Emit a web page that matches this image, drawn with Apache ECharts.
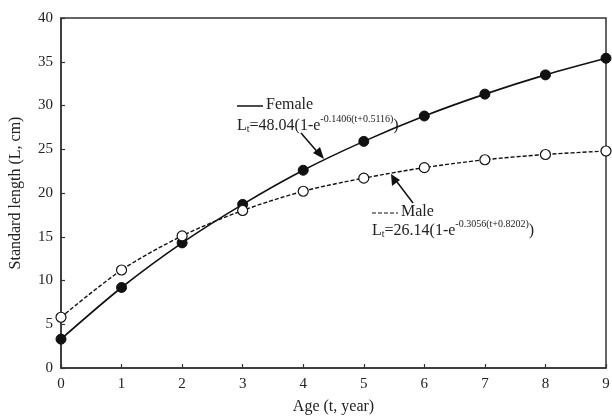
<!DOCTYPE html>
<html>
<head>
<meta charset="utf-8">
<script src="https://cdn.jsdelivr.net/npm/echarts@6/dist/echarts.min.js"></script>
<style>
html,body{margin:0;padding:0;background:#fff;}
#chart{width:612px;height:418px;}
</style>
</head>
<body>
<div id="chart"></div>
<script>
// age in years
var ages = [0, 1, 2, 3, 4, 5, 6, 7, 8, 9];
// standard length (cm)
var female = [3.3, 9.2, 14.3, 18.7, 22.6, 25.9, 28.8, 31.3, 33.5, 35.4];
var male = [5.8, 11.2, 15.1, 18.0, 20.2, 21.7, 22.9, 23.8, 24.4, 24.8];
var yTicks = [0, 40, 5];

var fontFam = '"Liberation Serif", "DejaVu Serif", serif';
var ink = '#222';

function pairs(ys){
	var out = [];
	for(var i=0;i<ages.length;i++){ out.push([ages[i], ys[i]]); }
	return out;
}

// formula label: main text + subscript + superscript, all on a 20px line
var eqRich = {
	b: {fontFamily: fontFam, fontSize: 16, fill: ink, verticalAlign: 'bottom', lineHeight: 20},
	s: {fontFamily: fontFam, fontSize: 10, fill: ink, verticalAlign: 'bottom', lineHeight: 20},
	p: {fontFamily: fontFam, fontSize: 10, fill: ink, verticalAlign: 'top', lineHeight: 20}
};

var mychart = echarts.init(document.getElementById('chart'));

var option = {
	animation: false,
	backgroundColor: '#fff',
	grid: {
		left: 61, right: 6, top: 18, bottom: 50,
		outerBoundsMode: 'none', containLabel: false,
		show: true, borderColor: '#333', borderWidth: 1.5, backgroundColor: 'transparent'
	},
	xAxis: {
		type: 'value', min: 0, max: 9, interval: 1,
		name: 'Age (t, year)', nameLocation: 'middle', nameGap: 31,
		nameTextStyle: {fontFamily: fontFam, fontSize: 16, color: ink},
		axisLine: {show: true, lineStyle: {color: '#333', width: 1.5}},
		axisTick: {show: true, inside: true, length: 4, lineStyle: {color: '#333', width: 1.2}},
		axisLabel: {fontFamily: fontFam, fontSize: 15, color: ink, margin: 9},
		splitLine: {show: false}
	},
	yAxis: {
		type: 'value', min: yTicks[0], max: yTicks[1], interval: yTicks[2],
		name: 'Standard length (L, cm)', nameLocation: 'middle', nameGap: 37,
		nameTextStyle: {fontFamily: fontFam, fontSize: 16, color: ink},
		axisLine: {show: true, lineStyle: {color: '#333', width: 1.5}},
		axisTick: {show: true, inside: true, length: 4, lineStyle: {color: '#333', width: 1.2}},
		axisLabel: {fontFamily: fontFam, fontSize: 15, color: ink, margin: 8},
		splitLine: {show: false}
	},
	series: [
		{
			name: 'Female', type: 'line', smooth: 0.3,
			data: pairs(female),
			symbol: 'circle', symbolSize: 10,
			lineStyle: {color: '#111', width: 1.6, type: 'solid'},
			itemStyle: {color: '#111', borderColor: '#111', borderWidth: 1}
		},
		{
			name: 'Male', type: 'line', smooth: 0.3,
			data: pairs(male),
			symbol: 'circle', symbolSize: 10,
			lineStyle: {color: '#111', width: 1.4, type: [4, 2]},
			itemStyle: {color: '#fff', borderColor: '#111', borderWidth: 1.2}
		}
	],
	graphic: [
		// female label
		{type: 'line', shape: {x1: 237, y1: 106, x2: 263, y2: 106}, style: {stroke: '#111', lineWidth: 1.5}},
		{type: 'text', left: 266, top: 97, style: {text: 'Female', font: '16px ' + fontFam, fill: ink}},
		{type: 'text', left: 237, top: 114, style: {
			text: '{b|L}{s|t}{b|=48.04(1-e}{p|-0.1406(t+0.5116)}{b|)}', rich: eqRich
		}},
		// female arrow
		{type: 'line', shape: {x1: 301, y1: 133, x2: 320, y2: 155}, style: {stroke: '#111', lineWidth: 1.5}},
		{type: 'polygon', shape: {points: [[324, 159], [313, 153], [320, 147]]}, style: {fill: '#111'}},
		// male label
		{type: 'line', shape: {x1: 372, y1: 213, x2: 398, y2: 213}, style: {stroke: '#111', lineWidth: 1.2, lineDash: [4, 2]}},
		{type: 'text', left: 401, top: 204, style: {text: 'Male', font: '16px ' + fontFam, fill: ink}},
		{type: 'text', left: 372, top: 219, style: {
			text: '{b|L}{s|t}{b|=26.14(1-e}{p|-0.3056(t+0.8202)}{b|)}', rich: eqRich
		}},
		// male arrow
		{type: 'line', shape: {x1: 413, y1: 203, x2: 394, y2: 178}, style: {stroke: '#111', lineWidth: 1.5}},
		{type: 'polygon', shape: {points: [[391, 174], [392, 186], [400, 180]]}, style: {fill: '#111'}}
	]
};

mychart.setOption(option, true);
</script>
</body>
</html>
